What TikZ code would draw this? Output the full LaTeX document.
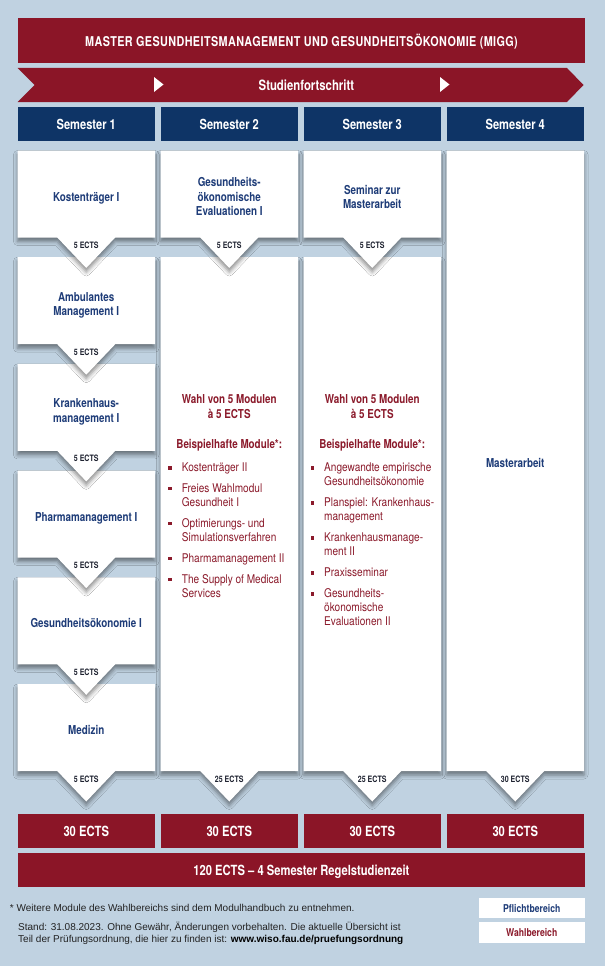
\documentclass[tikz,border=0pt]{standalone}
\usepackage{fontspec}
\setmainfont{TeX Gyre Heros}
\newfontfamily\cn{TeX Gyre Heros}[FakeStretch=0.8]
\newfontfamily\cnt{TeX Gyre Heros}[FakeStretch=0.8,LetterSpace=3]
\newfontfamily\cnr{TeX Gyre Heros}[FakeStretch=0.84]
\newfontfamily\arl{Liberation Sans}
\usetikzlibrary{shadows.blur}
\definecolor{bgc}{HTML}{C0D2E1}
\definecolor{mred}{HTML}{8B1527}
\definecolor{navy}{HTML}{0E3466}
\definecolor{pblue}{HTML}{1E3C78}
\definecolor{wred}{HTML}{8B1A2B}
\definecolor{ectsc}{HTML}{1E2230}
\definecolor{foot}{HTML}{222222}
\newcommand\ectsbox[3]{\path[wbox] (#1,#2) -- (#1+137.5,#2) -- (#1+137.5,#3) -- (#1+97.75,#3) -- (#1+68.75,#3+30.5) -- (#1+39.75,#3) -- (#1,#3) -- cycle;}
% #1 text x, #2 first baseline, #3 name, #4 number of lines, #5 text
\newcommand\litem[5]{\path[fill=wred] (#1-13.5,#2-5.5) rectangle ++(3.5,3.5);
  \node[li] (#3) at (#1,#2+14*#4-14) {#5};}
\begin{document}
\begin{tikzpicture}[x=1pt,y=-1pt,
  wbox/.style={fill=white, blur shadow={shadow xshift=0pt, shadow yshift=-4pt, shadow blur radius=4pt, shadow opacity=45}},
  ttl/.style={anchor=base, inner sep=0, text=white, font=\cnt\bfseries\fontsize{13.5}{16}\selectfont},
  semtxt/.style={anchor=base, inner sep=0, text=white, font=\cn\bfseries\fontsize{13.9}{16}\selectfont},
  ects/.style={anchor=base, inner sep=0, text=ectsc, font=\cn\bfseries\fontsize{8.8}{10}\selectfont},
  btxt/.style={anchor=base, inner sep=0, align=center, text=pblue, font=\cn\bfseries\fontsize{12.3}{14.5}\selectfont},
  wtxt/.style={btxt, text=wred},
  li/.style={anchor=base west, inner sep=0, align=left, text=wred, font=\cnr\fontsize{12}{14}\selectfont},
  ftxt/.style={anchor=base west, inner sep=0, align=left, text=foot, font=\arl\fontsize{10}{11.5}\selectfont},
  lgd/.style={anchor=base, inner sep=0, font=\cn\bfseries\fontsize{10.8}{12}\selectfont}]
\useasboundingbox[fill=bgc] (0,0) rectangle (605,966);
% title
\path[fill=mred] (17.5,18) rectangle (584.5,63);
\node[ttl] (title) at (301.5,47) {MASTER GESUNDHEITSMANAGEMENT UND GESUNDHEITSÖKONOMIE (MIGG)};
% progress arrow
\path[fill=mred] (17.5,68) -- (567,68) -- (583.5,85) -- (567,102) -- (17.5,102) -- (34.5,85) -- cycle;
\path[fill=white] (154,77) -- (163.5,84.5) -- (154,92) -- cycle;
\path[fill=white] (440,77) -- (449.5,84.5) -- (440,92) -- cycle;
\node[semtxt, font=\cn\bfseries\fontsize{14.2}{16}\selectfont] (prog) at (306.4,90) {Studienfortschritt};
% semester headers and sums
\foreach \xl/\n in {17.5/1,160.5/2,303.5/3,446.5/4}{
  \path[fill=navy] (\xl,107) rectangle (\xl+137.5,141);
  \node[semtxt] (sem\n) at (\xl+68.75,129.3) {Semester \n};
  \path[fill=mred] (\xl,814) rectangle (\xl+137.5,848);
  \node[semtxt, font=\cn\bfseries\fontsize{14}{16}\selectfont] (sum\n) at (\xl+68.75,836) {30 ECTS};
}
% column 1
\ectsbox{17.5}{684}{771}
\node[ects] (e16) at (86.25,782) {5 ECTS};
\node[btxt] (m16) at (86.25,734.4) {Medizin};
\ectsbox{17.5}{577.3}{664.3}
\node[ects] (e15) at (86.25,675.3) {5 ECTS};
\node[btxt] (m15) at (86.25,627.8) {Gesundheitsökonomie I};
\ectsbox{17.5}{470.6}{557.6}
\node[ects] (e14) at (86.25,568.6) {5 ECTS};
\node[btxt] (m14) at (86.25,521.1) {Pharmamanagement I};
\ectsbox{17.5}{363.9}{450.9}
\node[ects] (e13) at (86.25,461.9) {5 ECTS};
\node[btxt] (m13) at (86.25,422.2) {Krankenhaus-\\management I};
\ectsbox{17.5}{257.2}{344.2}
\node[ects] (e12) at (86.25,355.2) {5 ECTS};
\node[btxt] (m12) at (86.25,315.5) {Ambulantes\\Management I};
\ectsbox{17.5}{150.5}{237.5}
\node[ects] (e11) at (86.25,248.5) {5 ECTS};
\node[btxt] (m11) at (86.25,201) {Kostenträger I};
% column 2
\ectsbox{160.5}{257.2}{771}
\node[ects] (e22) at (229.25,782) {25 ECTS};
\node[wtxt] (w2) at (229.25,418) {Wahl von 5 Modulen\\à 5 ECTS};
\node[wtxt] (b2) at (229.25,448) {Beispielhafte Module*:};
\litem{181.7}{471.7}{l21}{1}{Kostenträger II}
\litem{181.7}{492}{l22}{2}{Freies Wahlmodul\\Gesundheit I}
\litem{181.7}{527}{l23}{2}{Optimierungs- und\\Simulationsverfahren}
\litem{181.7}{562}{l24}{1}{Pharmamanagement II}
\litem{181.7}{583}{l25}{2}{The Supply of Medical\\Services}
\ectsbox{160.5}{150.5}{237.5}
\node[ects] (e21) at (229.25,248.5) {5 ECTS};
\node[btxt] (m21) at (229.25,215.7) {Gesundheits-\\ökonomische\\Evaluationen I};
% column 3
\ectsbox{303.5}{257.2}{771}
\node[ects] (e32) at (372.25,782) {25 ECTS};
\node[wtxt] (w3) at (372.25,418) {Wahl von 5 Modulen\\à 5 ECTS};
\node[wtxt] (b3) at (372.25,448) {Beispielhafte Module*:};
\litem{324}{471.7}{l31}{2}{Angewandte empirische\\Gesundheitsökonomie}
\litem{324}{506.7}{l32}{2}{Planspiel: Krankenhaus-\\management}
\litem{324}{541.7}{l33}{2}{Krankenhausmanage-\\ment II}
\litem{324}{576.7}{l34}{1}{Praxisseminar}
\litem{324}{597.7}{l35}{3}{Gesundheits-\\ökonomische\\Evaluationen II}
\ectsbox{303.5}{150.5}{237.5}
\node[ects] (e31) at (372.25,248.5) {5 ECTS};
\node[btxt] (m31) at (372.25,208.8) {Seminar zur\\Masterarbeit};
% column 4
\ectsbox{446.5}{150.5}{771}
\node[ects] (e41) at (515.25,782) {30 ECTS};
\node[btxt] (m41) at (515.25,467.5) {Masterarbeit};
% total
\path[fill=mred] (17.5,853) rectangle (584.5,887);
\node[semtxt, font=\cn\bfseries\fontsize{14}{16}\selectfont] (total) at (301.4,875) {120 ECTS – 4 Semester Regelstudienzeit};
% footnotes
\node[ftxt] (fn1) at (9.7,911.5) {* Weitere Module des Wahlbereichs sind dem Modulhandbuch zu entnehmen.};
\node[ftxt] (fn2) at (18,942) {Stand: 31.08.2023. Ohne Gewähr, Änderungen vorbehalten. Die aktuelle Übersicht ist\\Teil der Prüfungsordnung, die hier zu finden ist: \textbf{\color{black}www.wiso.fau.de/pruefungsordnung}};
% legend
\path[fill=white] (479,898) rectangle (584.5,918);
\node[lgd, text=pblue] (lp) at (531.75,912.5) {Pflichtbereich};
\path[fill=white] (479,922) rectangle (584.5,943);
\node[lgd, text=wred] (lw) at (531.75,936.5) {Wahlbereich};
\end{tikzpicture}
\end{document}
